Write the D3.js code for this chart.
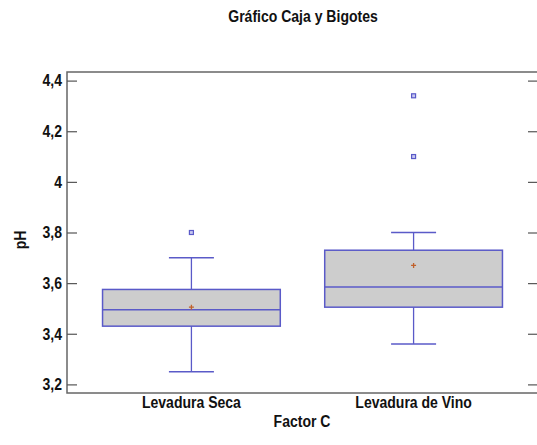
<!DOCTYPE html>
<html>

<head>
    <meta charset="UTF-8">
    <style>
        body { margin: 0; background: #fff; }
        text { font-family: "Liberation Sans", Arial, sans-serif; font-weight: bold; fill: #111; }
    </style>
</head>

<body>
    <script src="https://d3js.org/d3.v7.min.js"></script>
    <div id="chart"></div>
    <script>
        // data
        const categories = ["Levadura Seca", "Levadura de Vino"];
        const whiskerLow = [3.25, 3.36];
        const q1 = [3.43, 3.505];
        const median = [3.495, 3.585];
        const q3 = [3.575, 3.73];
        const whiskerHigh = [3.70, 3.80];
        const means = [3.505, 3.67];
        const outliers = [[3.80], [4.10, 4.34]];
        const yTicks = [3.2, 3.4, 3.6, 3.8, 4.0, 4.2, 4.4];

        const boxes = categories.map((c, i) => ({
            cat: c, lo: whiskerLow[i], q1: q1[i], med: median[i],
            q3: q3[i], hi: whiskerHigh[i], mean: means[i], out: outliers[i]
        }));

        const W = 537, H = 445;
        const margin = { top: 72, right: -1, bottom: 52, left: 67 };

        const svg = d3.select("#chart")
            .append("svg")
            .attr("width", W)
            .attr("height", H);

        // narrow bold text, like the original's condensed font
        function label(txt, x, y, anchor, rot) {
            return svg.append("text")
                .attr("transform", `translate(${x},${y})` + (rot ? ` rotate(${rot})` : "") + " scale(0.85,1)")
                .attr("text-anchor", anchor)
                .style("font-size", "16.5px")
                .text(txt);
        }

        const x = d3.scaleBand()
            .domain(categories)
            .range([margin.left, W - margin.right])
            .paddingInner(0.2)
            .paddingOuter(0.16);

        const y = d3.scaleLinear()
            .domain([3.166, 4.434])
            .range([H - margin.bottom, margin.top]);

        const fmt = d => d3.format(".1~f")(d).replace(".", ",");

        // frame
        svg.append("rect")
            .attr("x", margin.left)
            .attr("y", margin.top)
            .attr("width", W - margin.right - margin.left)
            .attr("height", H - margin.bottom - margin.top)
            .attr("fill", "none")
            .attr("stroke", "#666")
            .attr("stroke-width", 1.5);

        // left ticks pointing inward
        svg.append("g")
            .attr("transform", `translate(${margin.left},0)`)
            .call(d3.axisLeft(y).tickValues(yTicks).tickFormat("").tickSize(-10))
            .call(g => g.select(".domain").remove())
            .selectAll("line").attr("stroke", "#555").attr("stroke-width", 1.2);

        yTicks.forEach(t => label(fmt(t), 62, y(t) + 5.8, "end"));

        // right ticks
        svg.append("g")
            .attr("transform", `translate(${W},0)`)
            .call(d3.axisRight(y).tickValues(yTicks).tickFormat("").tickSize(-9))
            .call(g => g.select(".domain").remove())
            .selectAll("line").attr("stroke", "#555").attr("stroke-width", 1.2);

        // x labels
        categories.forEach(c => label(c, x(c) + x.bandwidth() / 2, 408, "middle"));

        // boxes
        const cx = d => x(d.cat) + x.bandwidth() / 2;
        const capW = 45;
        const blue = "#5a5ac8";

        const g = svg.append("g")
            .selectAll("g")
            .data(boxes)
            .join("g");

        g.append("line")
            .attr("x1", cx).attr("x2", cx)
            .attr("y1", d => y(d.lo)).attr("y2", d => y(d.hi))
            .attr("stroke", blue).attr("stroke-width", 1.3);

        g.append("line")
            .attr("x1", d => cx(d) - capW / 2).attr("x2", d => cx(d) + capW / 2)
            .attr("y1", d => y(d.hi)).attr("y2", d => y(d.hi))
            .attr("stroke", blue).attr("stroke-width", 1.5);

        g.append("line")
            .attr("x1", d => cx(d) - capW / 2).attr("x2", d => cx(d) + capW / 2)
            .attr("y1", d => y(d.lo)).attr("y2", d => y(d.lo))
            .attr("stroke", blue).attr("stroke-width", 1.5);

        g.append("rect")
            .attr("x", d => x(d.cat))
            .attr("width", x.bandwidth())
            .attr("y", d => y(d.q3))
            .attr("height", d => y(d.q1) - y(d.q3))
            .attr("fill", "#cdcdcd")
            .attr("stroke", blue)
            .attr("stroke-width", 1.5);

        g.append("line")
            .attr("x1", d => x(d.cat)).attr("x2", d => x(d.cat) + x.bandwidth())
            .attr("y1", d => y(d.med)).attr("y2", d => y(d.med))
            .attr("stroke", blue).attr("stroke-width", 1.5);

        // mean marker
        g.append("path")
            .attr("d", d => `M${cx(d) - 2.5},${y(d.mean)}h5M${cx(d)},${y(d.mean) - 2.5}v5`)
            .attr("stroke", "#c0602a").attr("stroke-width", 1.3);

        // outliers
        g.selectAll("rect.out")
            .data(d => d.out.map(v => ({ cat: d.cat, v: v })))
            .join("rect")
            .attr("class", "out")
            .attr("x", d => cx(d) - 2)
            .attr("y", d => y(d.v) - 2)
            .attr("width", 4).attr("height", 4)
            .attr("fill", "#c8c8f0")
            .attr("stroke", blue).attr("stroke-width", 1.2);

        // titles
        label("Gráfico Caja y Bigotes", 303, 22, "middle");
        label("Factor C", 302, 427, "middle");
        label("pH", 26, 240, "middle", -90);
    </script>
</body>

</html>
